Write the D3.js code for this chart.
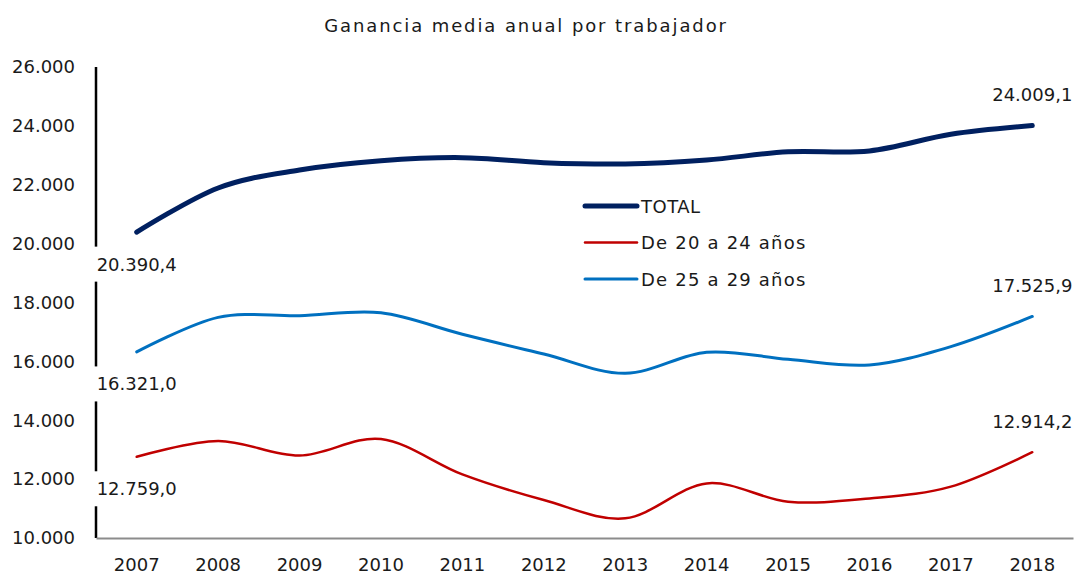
<!DOCTYPE html>
<html>
<head>
<meta charset="utf-8">
<script src="https://cdn.jsdelivr.net/npm/d3@7"></script>
<style>
  html, body { margin: 0; padding: 0; background: #fff; }
  svg text { font-family: "DejaVu Sans", sans-serif; fill: #1a1a1a; }
</style>
</head>
<body>
<div id="chart"></div>
<script>
const YEARS = ["2007", "2008", "2009", "2010", "2011", "2012", "2013", "2014", "2015", "2016", "2017", "2018"];
const TOTAL = [20390.4, 21890, 22500, 22815, 22920, 22750, 22705, 22840, 23120, 23150, 23715, 24009.1];
const DE_20_24 = [12759.0, 13295, 12800, 13363, 12160, 11290, 10670, 11855, 11235, 11345, 11745, 12914.2];
const DE_25_29 = [16321.0, 17495, 17550, 17650, 16920, 16250, 15595, 16310, 16070, 15880, 16500, 17525.9];
const Y_TICKS = [10000, 12000, 14000, 16000, 18000, 20000, 22000, 24000, 26000];

const TITLE = "Ganancia media anual por trabajador";

const SERIES = [
  { name: "TOTAL", values: TOTAL, color: "#002060", width: 5 },
  { name: "De 20 a 24 años", values: DE_20_24, color: "#C00000", width: 2.5 },
  { name: "De 25 a 29 años", values: DE_25_29, color: "#0070C0", width: 3 },
];

const WIDTH = 1075;
const HEIGHT = 576;
const margin = { top: 67, right: 2, bottom: 38, left: 96 };
const innerW = WIDTH - margin.left - margin.right;
const innerH = HEIGHT - margin.top - margin.bottom;

const locale = d3.formatLocale({ decimal: ",", thousands: ".", grouping: [3], currency: ["", "€"] });
const fmtTick = locale.format(",.0f");
const fmtLabel = locale.format(",.1f");

const svg = d3.select("#chart").append("svg")
  .attr("width", WIDTH)
  .attr("height", HEIGHT);

svg.append("text")
  .attr("x", 526)
  .attr("y", 25)
  .attr("text-anchor", "middle")
  .attr("dominant-baseline", "central")
  .style("font-size", "18px")
  .style("letter-spacing", "1.9px")
  .text(TITLE);

const g = svg.append("g").attr("transform", `translate(${margin.left},${margin.top})`);

const x = d3.scaleBand().domain(YEARS).range([0, innerW]);
const y = d3.scaleLinear().domain([10000, 26000]).range([innerH, 0]);

// y axis
const yAxis = g.append("g").call(d3.axisLeft(y).tickValues(Y_TICKS).tickFormat(fmtTick).tickSize(0).tickPadding(21));
yAxis.select(".domain").remove();
yAxis.selectAll("text").style("font-size", "18px").style("font-family", "DejaVu Sans, sans-serif").attr("fill", "#1a1a1a");
g.append("line")
  .attr("x1", 0).attr("x2", 0)
  .attr("y1", y(26000)).attr("y2", innerH)
  .attr("stroke", "#000").attr("stroke-width", 2.5);

// x axis
const xAxis = g.append("g").attr("transform", `translate(0,${innerH})`)
  .call(d3.axisBottom(x).tickSize(0).tickPadding(20));
xAxis.select(".domain").attr("stroke", "#8c8c8c").attr("stroke-width", 2);
xAxis.selectAll("text").style("font-size", "18px").style("font-family", "DejaVu Sans, sans-serif").attr("fill", "#1a1a1a");

const cx = d => x(d) + x.bandwidth() / 2;

// data labels (first below, last above) with white boxes
const labels = g.append("g");
SERIES.forEach(s => {
  const pts = [
    { year: YEARS[0], v: s.values[0], dy: 32 },
    { year: YEARS[YEARS.length - 1], v: s.values[s.values.length - 1], dy: -31 },
  ];
  pts.forEach(p => {
    const lg = labels.append("g");
    const t = lg.append("text")
      .attr("x", cx(p.year))
      .attr("y", y(p.v) + p.dy)
      .attr("text-anchor", "middle")
      .attr("dominant-baseline", "central")
      .style("font-size", "18px")
      .text(fmtLabel(p.v));
    const bb = t.node().getBBox();
    lg.insert("rect", "text")
      .attr("x", bb.x - 4).attr("y", bb.y - 7)
      .attr("width", bb.width + 8).attr("height", bb.height + 14)
      .attr("fill", "#fff");
  });
});

// lines
const line = d3.line()
  .x((d, i) => cx(YEARS[i]))
  .y(d => y(d))
  .curve(d3.curveCardinal.tension(0));

g.append("g").selectAll("path")
  .data(SERIES.slice().reverse())
  .join("path")
  .attr("d", d => line(d.values))
  .attr("fill", "none")
  .attr("stroke", d => d.color)
  .attr("stroke-width", d => d.width)
  .attr("stroke-linecap", "round");

// legend
const legend = svg.append("g").attr("transform", "translate(585,206)");
const items = legend.selectAll("g").data(SERIES).join("g")
  .attr("transform", (d, i) => `translate(0,${i * 36.5})`);
items.append("line")
  .attr("x1", 0).attr("x2", 52)
  .attr("stroke", d => d.color)
  .attr("stroke-width", d => d.width)
  .attr("stroke-linecap", "round");
items.append("text")
  .attr("x", 56)
  .attr("dominant-baseline", "central")
  .style("font-size", "18px")
  .style("letter-spacing", d => d.name === "TOTAL" ? "0.5px" : "1.2px")
  .text(d => d.name);
</script>
</body>
</html>
